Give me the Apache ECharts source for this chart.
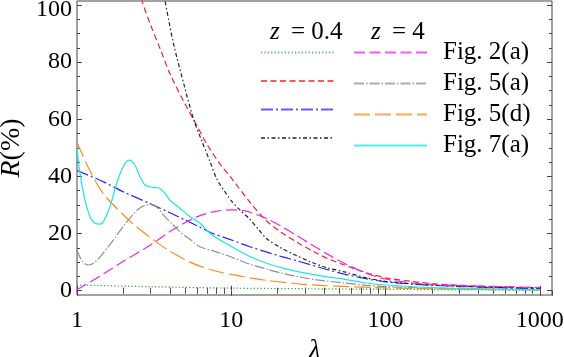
<!DOCTYPE html>
<html>
<head>
<meta charset="utf-8">
<script src="https://cdn.jsdelivr.net/npm/echarts@6/dist/echarts.min.js"></script>
<style>
  html, body { margin: 0; padding: 0; background: #fff; }
  #chart { width: 564px; height: 357px; }
</style>
</head>
<body>
<div id="chart"></div>
<script>
// tick labels
const xTickLabels = [1, 10, 100, 1000]
const yTickLabels = [0, 20, 40, 60, 80]
const yTopLabel = [100]

// z = 0.4 curves
const fig2aLowX = [1, 3, 10, 30, 100, 300, 1000]
const fig2aLowY = [2.0, 1.4, 0.9, 0.7, 0.5, 0.3, 0.15]

const fig5aLowX = [2.4, 2.64, 3, 3.5, 4, 5, 5.82, 7, 8.5, 10, 13.2, 16.9, 21, 27, 34, 42, 54, 75, 100, 150, 200, 300, 500, 1000]
const fig5aLowY = [112, 101.5, 93, 84, 76, 65.5, 59, 51, 44.2, 39.5, 31, 24.5, 20.5, 16.8, 13.8, 11.3, 9.0, 6.3, 4.5, 3.2, 2.5, 1.9, 1.4, 1.0]

const fig5dLowX = [1, 1.5, 2, 3, 4, 5, 6.27, 7.4, 10, 13.2, 17, 21, 27, 40, 54, 75, 100, 200, 500, 1000]
const fig5dLowY = [42.1, 38, 34.6, 30.4, 27.3, 24.8, 22.2, 20.3, 17.8, 15.4, 13.5, 12.0, 10.4, 7.7, 5.8, 4.2, 3.1, 1.9, 1.1, 0.7]

const fig7aLowX = [3.4, 3.72, 4.2, 5, 5.7, 6.43, 7.3, 8.07, 9, 10, 11.5, 13.2, 15, 16.9, 21, 26, 33, 42, 54, 75, 100, 150, 200, 300, 500, 1000]
const fig7aLowY = [112, 101.5, 87, 71, 60, 52.5, 45, 39, 35, 31.5, 28, 25, 21.5, 18.3, 15, 12.5, 10, 8, 6.6, 4.5, 3.3, 2.4, 2.0, 1.6, 1.2, 0.9]

// z = 4 curves
const fig2aHighX = [1, 1.5, 2, 3, 4, 5, 6.27, 8, 10, 12, 14, 17, 21, 26, 33, 42, 54, 75, 100, 150, 200, 300, 500, 1000]
const fig2aHighY = [0.3, 6, 10.3, 16, 20.7, 23.8, 26.3, 27.8, 28.3, 28.0, 27.0, 25.2, 22.6, 19.6, 16.2, 12.8, 9.6, 6.1, 4.1, 2.7, 2.2, 1.8, 1.5, 1.1]

const fig5aHighX = [1, 1.05, 1.1, 1.18, 1.28, 1.4, 1.6, 1.8, 2, 2.3, 2.6, 2.97, 3.3, 3.7, 4.2, 4.65, 5.4, 6.27, 8, 10, 13.2, 16.9, 21, 28, 36, 54, 75, 100, 200, 500, 1000]
const fig5aHighY = [14.2, 11.5, 9.9, 9.0, 9.6, 11.6, 15.5, 19.2, 22.6, 26.6, 29.2, 30.2, 29.2, 26.0, 23.0, 20.6, 18.0, 15.4, 13.6, 11.8, 9.3, 7.6, 6.2, 4.8, 3.8, 2.7, 1.9, 1.4, 0.9, 0.5, 0.3]

const fig5dHighX = [1, 1.2, 1.48, 2, 2.43, 3, 4, 5.4, 6.27, 8, 10, 13.2, 17, 22, 28, 40, 60, 100, 200, 500, 1000]
const fig5dHighY = [52, 42.5, 34, 26.5, 22.4, 18.5, 13.8, 10, 8.6, 6.8, 5.7, 4.5, 3.6, 2.9, 2.3, 1.8, 1.4, 1.0, 0.7, 0.4, 0.25]

const fig7aHighX = [1, 1.046, 1.127, 1.214, 1.308, 1.41, 1.48, 1.636, 1.808, 1.995, 2.18, 2.375, 2.56, 2.76, 2.97, 3.2, 3.45, 3.72, 4.0, 4.65, 5.4, 6.27, 7.4, 10, 13.2, 17, 22, 28, 40, 54, 75, 100, 200, 500, 1000]
const fig7aHighY = [49.8, 41, 31.7, 25.9, 23.6, 23.3, 24.1, 29.4, 37.6, 43.4, 45.7, 44, 39.9, 37, 36.4, 36.1, 35.8, 34.1, 31.7, 28.8, 25.9, 23.6, 19.8, 15.5, 12, 9.6, 7.8, 6.5, 5, 4, 2.7, 2.0, 1.1, 0.6, 0.4]

const xMax = 1200
const yMin = -1.5
const yMax = 101.4

const serif = "Liberation Serif"
const frameColor = '#444'

const xMinor = []
for (const d of [1, 10, 100]) {
  for (let k = 2; k <= 9; k++) xMinor.push(k * d)
}
const yMajor = yTickLabels.concat(yTopLabel)
const yMinor = []
for (let v = 5; v < 100; v += 5) {
  if (v % 20 !== 0) yMinor.push(v)
}

const makeLine = (name, xs, ys, color, dash) => ({
  name,
  type: 'line',
  xAxisIndex: 0,
  yAxisIndex: 0,
  data: xs.map((x, i) => [x, ys[i]]),
  symbol: 'none',
  smooth: 0.3,
  clip: true,
  lineStyle: { color, width: 1.2, type: dash },
  itemStyle: { color }
})

const series = [
  makeLine('Fig. 2(a) z=0.4', fig2aLowX, fig2aLowY, '#22aa22', [1.2, 2.2]),
  makeLine('Fig. 5(a) z=0.4', fig5aLowX, fig5aLowY, '#f02424', [6, 3.5]),
  makeLine('Fig. 5(d) z=0.4', fig5dLowX, fig5dLowY, '#2828f0', [12, 3, 2, 3]),
  makeLine('Fig. 7(a) z=0.4', fig7aLowX, fig7aLowY, '#222222', [4, 2.5, 1.5, 2.5]),
  makeLine('Fig. 2(a) z=4', fig2aHighX, fig2aHighY, '#f024f0', [11, 4.5]),
  makeLine('Fig. 5(a) z=4', fig5aHighX, fig5aHighY, '#909090', [10, 2, 1.5, 2]),
  makeLine('Fig. 5(d) z=4', fig5dHighX, fig5dHighY, '#ff8c1a', [16, 5]),
  makeLine('Fig. 7(a) z=4', fig7aHighX, fig7aHighY, '#18e8e8', 'solid')
]

const tickBase = {
  axisLine: { show: false },
  splitLine: { show: false },
  axisLabel: { show: false }
}

const legendBase = {
  orient: 'vertical',
  top: 40,
  padding: 0,
  itemWidth: 73,
  itemHeight: 25,
  itemGap: 6,
  selectedMode: false,
  itemStyle: { opacity: 0 },
  lineStyle: { opacity: 0.75 },
  textStyle: { fontFamily: serif, fontSize: 25, color: '#000', padding: [0, 0, 0, 11] }
}

const headerText = (x, text, italic) => ({
  type: 'text', x, y: 32,
  style: {
    text, fontFamily: serif, fontSize: 25, fontStyle: italic ? 'italic' : 'normal',
    fill: '#000', align: 'left', verticalAlign: 'middle'
  }
})

const chart = echarts.init(document.getElementById('chart'))

chart.setOption({
  animation: false,
  backgroundColor: '#fff',
  textStyle: { fontFamily: serif, color: '#000' },
  grid: {
    left: 77, right: 12, top: 1, bottom: 62,
    show: true, borderColor: frameColor, borderWidth: 1,
    containLabel: false, outerBoundsMode: 'none'
  },
  xAxis: [
    {
      type: 'log', logBase: 10, min: 1, max: xMax, position: 'bottom',
      name: 'λ', nameLocation: 'middle', nameGap: 36,
      nameTextStyle: { fontFamily: serif, fontSize: 27, fontStyle: 'italic', color: '#000' },
      axisLine: { show: false },
      splitLine: { show: false },
      axisTick: { inside: true, length: 5, lineStyle: { color: frameColor } },
      axisLabel: {
        margin: 14, fontFamily: serif, fontSize: 24, color: '#000',
        showMaxLabel: false,
        formatter: v => xTickLabels.includes(Math.round(v)) ? String(Math.round(v)) : ''
      }
    },
    {
      ...tickBase, type: 'log', logBase: 10, min: 1, max: xMax, position: 'top',
      axisTick: { inside: true, length: 5, lineStyle: { color: frameColor } }
    },
    {
      ...tickBase, type: 'value', min: 0, max: Math.log10(xMax), position: 'bottom',
      axisTick: { inside: true, length: 3, customValues: xMinor.map(Math.log10), lineStyle: { color: frameColor } }
    },
    {
      ...tickBase, type: 'value', min: 0, max: Math.log10(xMax), position: 'top',
      axisTick: { inside: true, length: 3, customValues: xMinor.map(Math.log10), lineStyle: { color: frameColor } }
    }
  ],
  yAxis: [
    {
      type: 'value', min: yMin, max: yMax, position: 'left',
      name: '{i|R}(%)', nameLocation: 'middle', nameGap: 51, nameRotate: 90,
      nameTextStyle: {
        fontFamily: serif, fontSize: 28, color: '#000',
        rich: { i: { fontFamily: serif, fontSize: 28, fontStyle: 'italic', color: '#000' } }
      },
      axisLine: { show: false },
      splitLine: { show: false },
      axisTick: { inside: true, length: 5, customValues: yMajor, lineStyle: { color: frameColor } },
      axisLabel: { customValues: yTickLabels, margin: 5, fontFamily: serif, fontSize: 24, color: '#000' }
    },
    {
      // top label only: hangs just below its tick so it stays inside the picture
      type: 'value', min: yMin, max: yMax, position: 'left',
      axisLine: { show: false },
      splitLine: { show: false },
      axisTick: { show: false },
      axisLabel: {
        customValues: yTopLabel, margin: 5, fontFamily: serif, fontSize: 24, color: '#000',
        verticalAlign: 'top', lineHeight: 10
      }
    },
    {
      ...tickBase, type: 'value', min: yMin, max: yMax, position: 'right',
      axisTick: { inside: true, length: 5, customValues: yMajor, lineStyle: { color: frameColor } }
    },
    {
      ...tickBase, type: 'value', min: yMin, max: yMax, position: 'left',
      axisTick: { inside: true, length: 3, customValues: yMinor, lineStyle: { color: frameColor } }
    },
    {
      ...tickBase, type: 'value', min: yMin, max: yMax, position: 'right',
      axisTick: { inside: true, length: 3, customValues: yMinor, lineStyle: { color: frameColor } }
    }
  ],
  legend: [
    {
      ...legendBase, left: 260,
      data: series.slice(0, 4).map(s => s.name),
      formatter: () => ''
    },
    {
      ...legendBase, left: 353,
      data: series.slice(4).map(s => s.name),
      formatter: name => name.replace(' z=4', '')
    }
  ],
  graphic: [
    headerText(270, 'z', true),
    headerText(291, '= 0.4', false),
    headerText(371, 'z', true),
    headerText(392, '= 4', false)
  ],
  series
})

window.addEventListener('resize', () => chart.resize())
</script>
</body>
</html>
